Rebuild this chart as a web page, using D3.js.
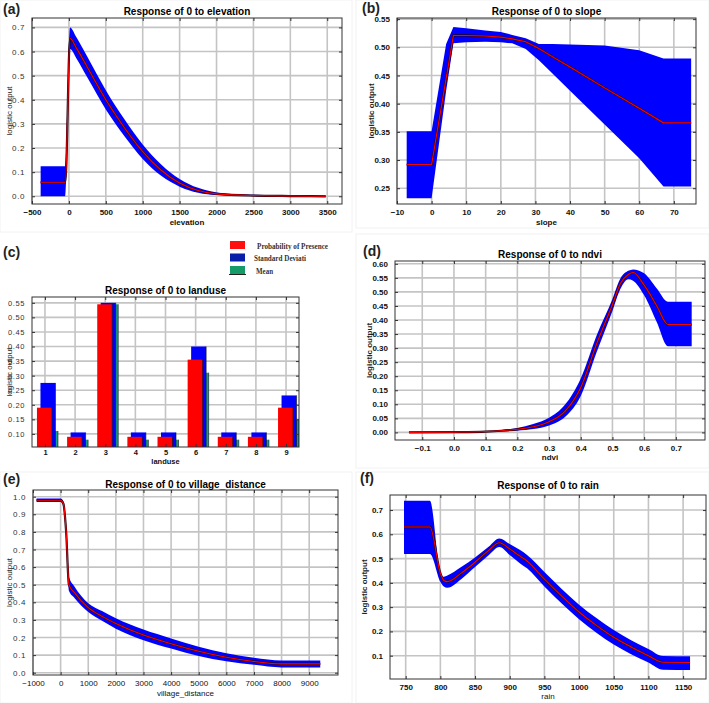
<!DOCTYPE html>
<html>
<head>
	<meta charset="utf-8">
	<script src="https://d3js.org/d3.v7.min.js"></script>
	<style type="text/css">
		body { margin: 0; background: #fff; }
		svg text { font-family: "Liberation Sans", Arial, sans-serif; }
	</style>
</head>
<body>
<div id="chart"></div>
<script type="text/javascript">
// (a) elevation
var elevX     = [-383, -48, 15, 100, 250, 500, 750, 1000, 1250, 1500, 1750, 2000, 2500, 3000, 3480];
var elevMean  = [0.058, 0.058, 0.655, 0.615, 0.535, 0.400, 0.285, 0.185, 0.108, 0.055, 0.024, 0.010, 0.003, 0.001, 0.000];
var elevUpper = [0.125, 0.125, 0.700, 0.660, 0.578, 0.440, 0.320, 0.215, 0.132, 0.072, 0.035, 0.016, 0.006, 0.003, 0.002];
var elevLower = [0.000, 0.000, 0.610, 0.572, 0.492, 0.360, 0.250, 0.155, 0.085, 0.040, 0.015, 0.005, 0.001, 0.000, 0.000];

// (b) slope
var slopeX     = [-7.2, 0, 4.2, 6.3, 10, 15.5, 20, 23.3, 27.2, 31, 35, 40, 50, 60, 67, 75];
var slopeMean  = [0.292, 0.292, 0.445, 0.521, 0.521, 0.520, 0.518, 0.515, 0.510, 0.498, 0.483, 0.465, 0.428, 0.392, 0.366, 0.366];
var slopeUpper = [0.351, 0.351, 0.506, 0.536, 0.534, 0.530, 0.527, 0.522, 0.516, 0.506, 0.506, 0.505, 0.503, 0.495, 0.480, 0.480];
var slopeLower = [0.232, 0.232, 0.423, 0.507, 0.509, 0.510, 0.509, 0.507, 0.497, 0.477, 0.453, 0.423, 0.363, 0.303, 0.253, 0.253];

// (c) landuse
var landCats     = [1, 2, 3, 4, 5, 6, 7, 8, 9];
var landPresence = [0.19, 0.09, 0.545, 0.09, 0.09, 0.355, 0.09, 0.09, 0.19];
var landStdDev   = [0.275, 0.105, 0.55, 0.105, 0.105, 0.40, 0.105, 0.105, 0.232];
var landMean     = [0.11, 0.08, 0.545, 0.08, 0.08, 0.31, 0.08, 0.08, 0.15];
var legendNames  = ["Probability of Presence", "Standard Deviati", "Mean"];

// (d) ndvi
var ndviX     = [-0.142, 0.0, 0.1, 0.15, 0.2, 0.25, 0.3, 0.35, 0.4, 0.45, 0.5, 0.525, 0.55, 0.565, 0.6, 0.64, 0.675, 0.75];
var ndviMean  = [0.000, 0.001, 0.003, 0.006, 0.011, 0.020, 0.038, 0.075, 0.160, 0.315, 0.455, 0.530, 0.562, 0.569, 0.524, 0.450, 0.384, 0.384];
var ndviUpper = [0.001, 0.002, 0.005, 0.009, 0.016, 0.030, 0.052, 0.098, 0.192, 0.345, 0.475, 0.548, 0.575, 0.580, 0.566, 0.512, 0.465, 0.465];
var ndviLower = [0.000, 0.000, 0.002, 0.004, 0.007, 0.012, 0.025, 0.055, 0.130, 0.285, 0.432, 0.510, 0.545, 0.540, 0.488, 0.392, 0.307, 0.307];

// (e) village_distance
var villX     = [-870, 0, 100, 200, 300, 500, 1000, 1500, 2000, 3000, 4000, 5000, 6000, 7000, 8000, 8500, 9400];
var villMean  = [0.98, 0.98, 0.96, 0.80, 0.50, 0.455, 0.37, 0.32, 0.28, 0.214, 0.165, 0.122, 0.088, 0.064, 0.05, 0.05, 0.05];
var villUpper = [0.99, 0.99, 0.972, 0.82, 0.545, 0.49, 0.395, 0.35, 0.31, 0.245, 0.195, 0.148, 0.11, 0.085, 0.07, 0.07, 0.07];
var villLower = [0.97, 0.97, 0.948, 0.78, 0.465, 0.425, 0.345, 0.295, 0.25, 0.185, 0.137, 0.095, 0.065, 0.045, 0.03, 0.03, 0.03];

// (f) rain
var rainX     = [747.6, 785, 800, 805, 810, 830, 850, 870, 885, 900, 915, 925, 950, 975, 1000, 1025, 1050, 1075, 1100, 1121, 1160];
var rainMean  = [0.63, 0.63, 0.44, 0.41, 0.405, 0.44, 0.485, 0.535, 0.565, 0.54, 0.51, 0.49, 0.415, 0.345, 0.28, 0.225, 0.176, 0.136, 0.100, 0.073, 0.072];
var rainUpper = [0.738, 0.738, 0.44, 0.425, 0.43, 0.465, 0.505, 0.55, 0.583, 0.56, 0.535, 0.515, 0.445, 0.375, 0.31, 0.255, 0.206, 0.164, 0.128, 0.099, 0.098];
var rainLower = [0.519, 0.519, 0.405, 0.385, 0.38, 0.415, 0.465, 0.515, 0.548, 0.515, 0.48, 0.46, 0.385, 0.315, 0.25, 0.195, 0.146, 0.106, 0.072, 0.042, 0.041];

var svg = d3.select("#chart").append("svg").attr("width", 709).attr("height", 703);

// faint borders of the sub-figures
[[0, 0, 352, 232], [356, 0, 353, 228], [356, 234, 353, 234], [0, 472, 352, 231], [356, 472, 353, 231]].forEach(function (r) {
	svg.append("rect").attr("x", r[0]).attr("y", r[1]).attr("width", r[2]).attr("height", r[3])
		.attr("fill", "none").attr("stroke", "#f2f2f2");
});

function panel(o) {
	var w = o.r - o.l, h = o.b - o.t;
	var x = d3.scaleLinear().domain(o.xd).range([0, w]);
	var y = d3.scaleLinear().domain(o.yd).range([h, 0]);
	var g = svg.append("g").attr("transform", "translate(" + o.l + "," + o.t + ")");
	var fs = o.fs || 8;

	// grid
	var grid = g.append("g").attr("class", "grid");
	o.xt.forEach(function (d) {
		grid.append("line").attr("x1", x(d)).attr("x2", x(d)).attr("y1", 0).attr("y2", h)
			.attr("stroke", "#c4c4c4").attr("stroke-width", 1.6);
	});
	o.yt.forEach(function (d) {
		grid.append("line").attr("y1", y(d)).attr("y2", y(d)).attr("x1", 0).attr("x2", w)
			.attr("stroke", "#c4c4c4").attr("stroke-width", 1.6);
	});

	var clip = "clip" + o.tag.replace(/\W/g, "");
	g.append("clipPath").attr("id", clip).append("rect").attr("width", w).attr("height", h);
	var plot = g.append("g").attr("clip-path", "url(#" + clip + ")");
	o.draw(plot, x, y);

	// frame and inward ticks
	var ax = g.append("g");
	ax.append("rect").attr("width", w).attr("height", h).attr("fill", "none").attr("stroke", "#333");
	var xa = ax.append("g").attr("transform", "translate(0," + h + ")")
		.call(d3.axisBottom(x).tickValues(o.xt).tickSizeInner(-3).tickSizeOuter(0).tickPadding(o.xPad || 5).tickFormat(o.xf));
	ax.append("g").call(d3.axisTop(x).tickValues(o.xt).tickSizeInner(-3).tickSizeOuter(0).tickFormat(""));
	var ya = ax.append("g")
		.call(d3.axisLeft(y).tickValues(o.yt).tickSizeInner(-3).tickSizeOuter(0).tickPadding(7).tickFormat(o.yf));
	ax.append("g").attr("transform", "translate(" + w + ",0)")
		.call(d3.axisRight(y).tickValues(o.yt).tickSizeInner(-3).tickSizeOuter(0).tickFormat(""));
	ax.selectAll(".domain").remove();
	ax.selectAll(".tick line").attr("stroke", "#333");
	xa.selectAll("text").attr("font-size", fs).attr("fill", "#111").attr("font-weight", o.boldX ? "bold" : "normal");
	ya.selectAll("text").attr("font-size", fs).attr("fill", o.boldY ? "#111" : "#333")
		.attr("font-weight", o.boldY ? "bold" : "normal").attr("letter-spacing", o.boldY ? 0 : 0.6);

	g.append("text").attr("x", w / 2).attr("y", -o.titleGap).attr("text-anchor", "middle")
		.attr("font-size", 10).attr("font-weight", "bold").text(o.title);
	g.append("text").attr("x", w / 2).attr("y", h + o.xlGap).attr("text-anchor", "middle")
		.attr("font-size", fs).attr("font-weight", o.boldXL ? "bold" : "normal").attr("fill", "#111").text(o.xl);
	g.append("text").attr("transform", "translate(" + (-o.ylGap) + "," + (h / 2) + ") rotate(-90)")
		.attr("text-anchor", "middle").attr("font-size", 8).attr("fill", "#222")
		.attr("font-weight", o.boldY ? "bold" : "normal").text("logistic output");
	svg.append("text").attr("x", o.tagX).attr("y", o.tagY).attr("font-size", 14).attr("font-weight", "bold")
		.attr("fill", "#222").text(o.tag);
}

function curve(xs, mean, up, lo, shape) {
	return function (plot, x, y) {
		var idx = d3.range(xs.length);
		plot.append("path").datum(idx)
			.attr("fill", "#0000ff")
			.attr("d", d3.area().curve(shape).x(function (i) { return x(xs[i]); })
				.y0(function (i) { return y(lo[i]); }).y1(function (i) { return y(up[i]); }));
		var line = d3.line().curve(shape).x(function (i) { return x(xs[i]); }).y(function (i) { return y(mean[i]); });
		plot.append("path").datum(idx).attr("fill", "none").attr("stroke", "#2a0010").attr("stroke-width", 2.2).attr("d", line);
		plot.append("path").datum(idx).attr("fill", "none").attr("stroke", "#ff0000").attr("stroke-width", 1.1).attr("d", line);
	};
}

function ticks(a, b, s) { return d3.range(Math.round((b - a) / s) + 1).map(function (i) { return +(a + i * s).toFixed(3); }); }

panel({ tag: "(a)", tagX: 3, tagY: 14, l: 32, r: 342, t: 18, b: 204,
	xd: [-500, 3700], yd: [-0.032, 0.739], xt: ticks(-500, 3500, 500), yt: ticks(0, 0.7, 0.1),
	xf: d3.format("d"), yf: d3.format(".1f"), title: "Response of 0 to elevation", titleGap: 3,
	xl: "elevation", xlGap: 21, boldXL: true, boldX: true, ylGap: 20,
	draw: curve(elevX, elevMean, elevUpper, elevLower, d3.curveMonotoneX) });

panel({ tag: "(b)", tagX: 362, tagY: 13, l: 397, r: 696, t: 18, b: 204,
	xd: [-10, 76.4], yd: [0.222, 0.552], xt: ticks(-10, 70, 10), yt: ticks(0.25, 0.55, 0.05),
	xf: d3.format("d"), yf: d3.format(".2f"), title: "Response of 0 to slope", titleGap: 3,
	xl: "slope", xlGap: 21, boldXL: true, boldX: true, boldY: true, ylGap: 23,
	draw: curve(slopeX, slopeMean, slopeUpper, slopeLower, d3.curveLinear) });

panel({ tag: "(c)", tagX: 3, tagY: 257, l: 32, r: 299, t: 297, b: 447, fs: 7.5, xPad: 3,
	xd: [0.57, 9.43], yd: [0.055, 0.57], xt: landCats, yt: ticks(0.1, 0.55, 0.05),
	xf: d3.format("d"), yf: d3.format(".2f"), title: "Response of 0 to landuse", titleGap: 3,
	xl: "landuse", xlGap: 16.5, boldXL: true, boldX: true, ylGap: 20,
	draw: function (plot, x, y) {
		var bw = 15;
		var series = [[landMean, "#14a08a", 5.5], [landStdDev, "#0000ff", 3], [landPresence, "#ff0000", -0.5]];
		series.forEach(function (s) {
			plot.selectAll(null).data(landCats).enter().append("rect")
				.attr("x", function (d) { return x(d) + s[2] - bw / 2; })
				.attr("y", function (d, i) { return y(s[0][i]); })
				.attr("width", bw)
				.attr("height", function (d, i) { return y.range()[0] - y(s[0][i]) + 2; })
				.attr("fill", s[1]);
			plot.selectAll(null).data(landCats).enter().append("line")
				.attr("x1", function (d) { return x(d) + s[2] + bw / 2; })
				.attr("x2", function (d) { return x(d) + s[2] + bw / 2; })
				.attr("y1", function (d, i) { return y(s[0][i]); })
				.attr("y2", y.range()[0])
				.attr("stroke", "#111").attr("stroke-width", 1).attr("opacity", 0.6);
		});
	} });

// legend of (c)
var legColors = ["#ff1010", "#0a1fa8", "#159a68"];
var legWidth = [71, 52, 17];
legendNames.forEach(function (n, i) {
	var ly = 241 + i * 12.5;
	svg.append("rect").attr("x", 230).attr("y", ly).attr("width", 15).attr("height", 8).attr("fill", legColors[i]);
	if (i === 2) svg.append("line").attr("x1", 229).attr("x2", 246).attr("y1", ly + 8.5).attr("y2", ly + 8.5).attr("stroke", "#222");
	svg.append("text").attr("x", i === 0 ? 257 : 254 + (i === 2 ? 2 : 0)).attr("y", ly + 7.5)
		.attr("font-size", 8.5).attr("font-weight", "bold").attr("fill", "#333")
		.attr("textLength", legWidth[i]).attr("lengthAdjust", "spacingAndGlyphs")
		.style("font-family", "'Liberation Serif', 'Times New Roman', serif").text(n);
});

panel({ tag: "(d)", tagX: 363, tagY: 256, l: 395, r: 705, t: 261, b: 440,
	xd: [-0.186, 0.792], yd: [-0.027, 0.61], xt: ticks(-0.1, 0.7, 0.1), yt: ticks(0, 0.6, 0.05),
	xf: d3.format(".1f"), yf: d3.format(".2f"), title: "Response of 0 to ndvi", titleGap: 3,
	xl: "ndvi", xlGap: 20, boldXL: true, boldX: true, boldY: true, ylGap: 23,
	draw: curve(ndviX, ndviMean, ndviUpper, ndviLower, d3.curveMonotoneX) });

panel({ tag: "(e)", tagX: 3, tagY: 484, l: 33, r: 338, t: 490, b: 675,
	xd: [-1000, 10043], yd: [-0.013, 1.038], xt: ticks(-1000, 9000, 1000), yt: ticks(0, 1, 0.1),
	xf: d3.format("d"), yf: d3.format(".1f"), title: "Response of 0 to village_distance", titleGap: 2,
	xl: "village_distance", xlGap: 21, ylGap: 21,
	draw: curve(villX, villMean, villUpper, villLower, d3.curveMonotoneX) });

panel({ tag: "(f)", tagX: 360, tagY: 483, l: 390, r: 706, t: 495, b: 679,
	xd: [727.4, 1183], yd: [0.004, 0.762], xt: ticks(750, 1150, 50), yt: ticks(0.1, 0.7, 0.1),
	xf: d3.format("d"), yf: d3.format(".1f"), title: "Response of 0 to rain", titleGap: 6,
	xl: "rain", xlGap: 20, boldX: true, boldY: true, ylGap: 23,
	draw: curve(rainX, rainMean, rainUpper, rainLower, d3.curveMonotoneX) });
</script>
</body>
</html>
